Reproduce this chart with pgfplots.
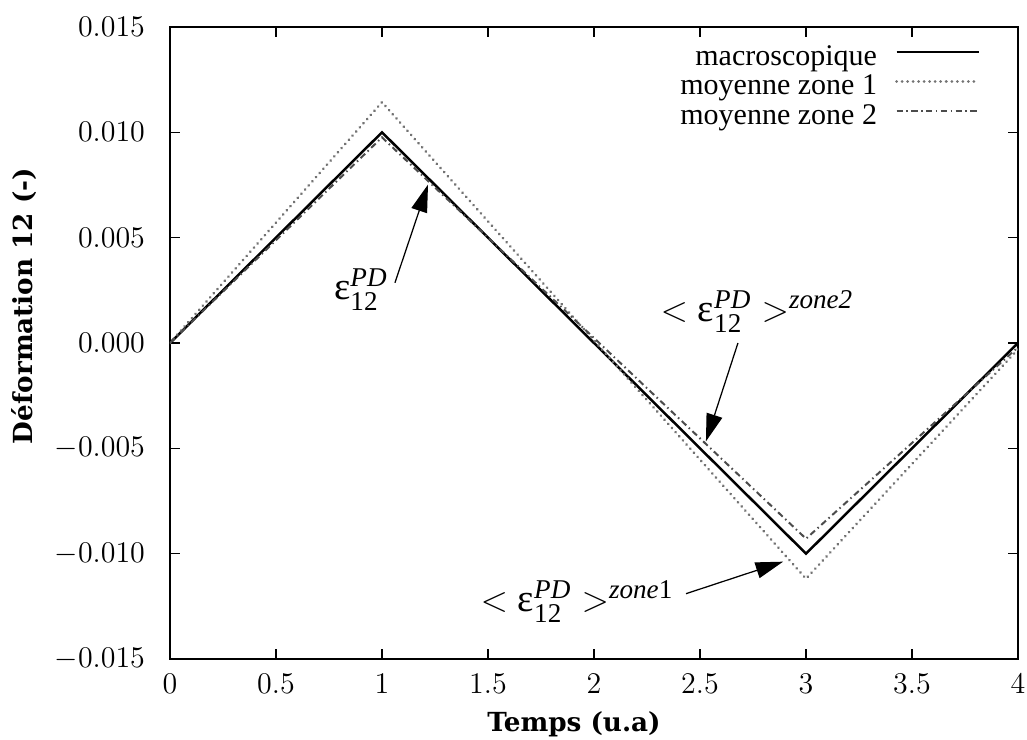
\documentclass[border=0pt]{standalone}
\usepackage{fontspec}
\setmainfont{Liberation Serif}
\newfontfamily\labfont{DejaVu Serif}
\usepackage{amsmath}
\usepackage{pgfplots}
\pgfplotsset{compat=1.18}
\usetikzlibrary{arrows.meta,calc}
\begin{document}
\begin{tikzpicture}
\begin{axis}[name=ax, scale only axis, width=339.2pt, height=252.8pt,
  xmin=0, xmax=4, ymin=-0.015, ymax=0.015,
  xtick={0,0.5,1,1.5,2,2.5,3,3.5,4},
  ytick={-0.015,-0.010,-0.005,0,0.005,0.010,0.015},
  scaled y ticks=false,
  ticklabel style={font=\fontsize{11.5}{14}\selectfont},
  yticklabel style={xshift=-6.5pt, /pgf/number format/fixed, /pgf/number format/fixed zerofill, /pgf/number format/precision=3},
  xticklabel style={yshift=-2.5pt},
  tick align=inside, major tick length=4pt,
  tick style={black, line width=0.5pt},
  axis line style={line width=0.6pt},
  xlabel={Temps (u.a)}, ylabel={Déformation 12 (-)},
  label style={font=\labfont\bfseries\fontsize{10.5}{13}\selectfont},
  xlabel style={at={(axis description cs:0.4764,-0.1028)}, anchor=center},
  ylabel style={at={(axis description cs:-0.1722,0.5585)}, anchor=center},
  legend image code/.code={\draw[#1] (0pt,2.8pt) -- (32.8pt,2.8pt);},
  legend cell align=right, legend plot pos=right,
  legend style={draw=none, fill=none, at={(axis description cs:1,1)}, anchor=north east,
    xshift=-15.2pt, yshift=-7.4pt, inner sep=0pt, outer sep=0pt, row sep=0.8pt,
    font=\fontsize{12}{14}\selectfont,
    nodes={inner sep=0pt, text height=8pt, text depth=3pt},
    /tikz/every odd column/.append style={column sep=7.2pt}},
]
\addplot[black, line width=1pt] coordinates {(0,0) (1,0.010) (3,-0.010) (4,0)};
\addlegendentry{macroscopique}
\addplot[black!55, line width=1.2pt, line cap=round, dash pattern=on 0.01pt off 2.2pt] coordinates {(0,0) (1,0.01143) (3,-0.01119) (4,-0.0003)};
\addlegendentry{moyenne zone 1}
\addplot[black!70, line width=0.8pt, dash pattern=on 2.5pt off 1.4pt on 0.6pt off 1.4pt] coordinates {(0,0) (1,0.00976) (3,-0.00929) (4,-0.0002)};
\addlegendentry{moyenne zone 2}

\node[inner sep=0pt, font=\fontsize{15.5}{18}\selectfont] at (axis cs:0.901,0.00252) {$\text{ε}^{\textit{PD}}_{\text{12}}$};
\draw[line width=0.5pt, -{Triangle[length=11pt,width=6.5pt]}] (axis cs:1.061,0.00286) -- (axis cs:1.217,0.00752);

\node[inner sep=0pt, font=\fontsize{15.5}{18}\selectfont] at (axis cs:2.769,0.00148) {$<\text{ε}^{\textit{PD}}_{\text{12}}>^{\textit{zone2}}$};
\draw[line width=0.5pt, -{Triangle[length=11pt,width=6.5pt]}] (axis cs:2.679,0) -- (axis cs:2.528,-0.00467);

\node[inner sep=0pt, font=\fontsize{15.5}{18}\selectfont] at (axis cs:1.920,-0.01226) {$<\text{ε}^{\textit{PD}}_{\text{12}}>^{\textit{zone}\text{1}}$};
\draw[line width=0.5pt, -{Triangle[length=11pt,width=6.5pt]}] (axis cs:2.434,-0.0119) -- (axis cs:2.892,-0.01038);
\end{axis}
\pgfresetboundingbox
\path[use as bounding box] ($(ax.south west)+(-68pt,-32.4pt)$) rectangle ($(ax.north east)+(3.6pt,10.8pt)$);
\end{tikzpicture}
\end{document}
